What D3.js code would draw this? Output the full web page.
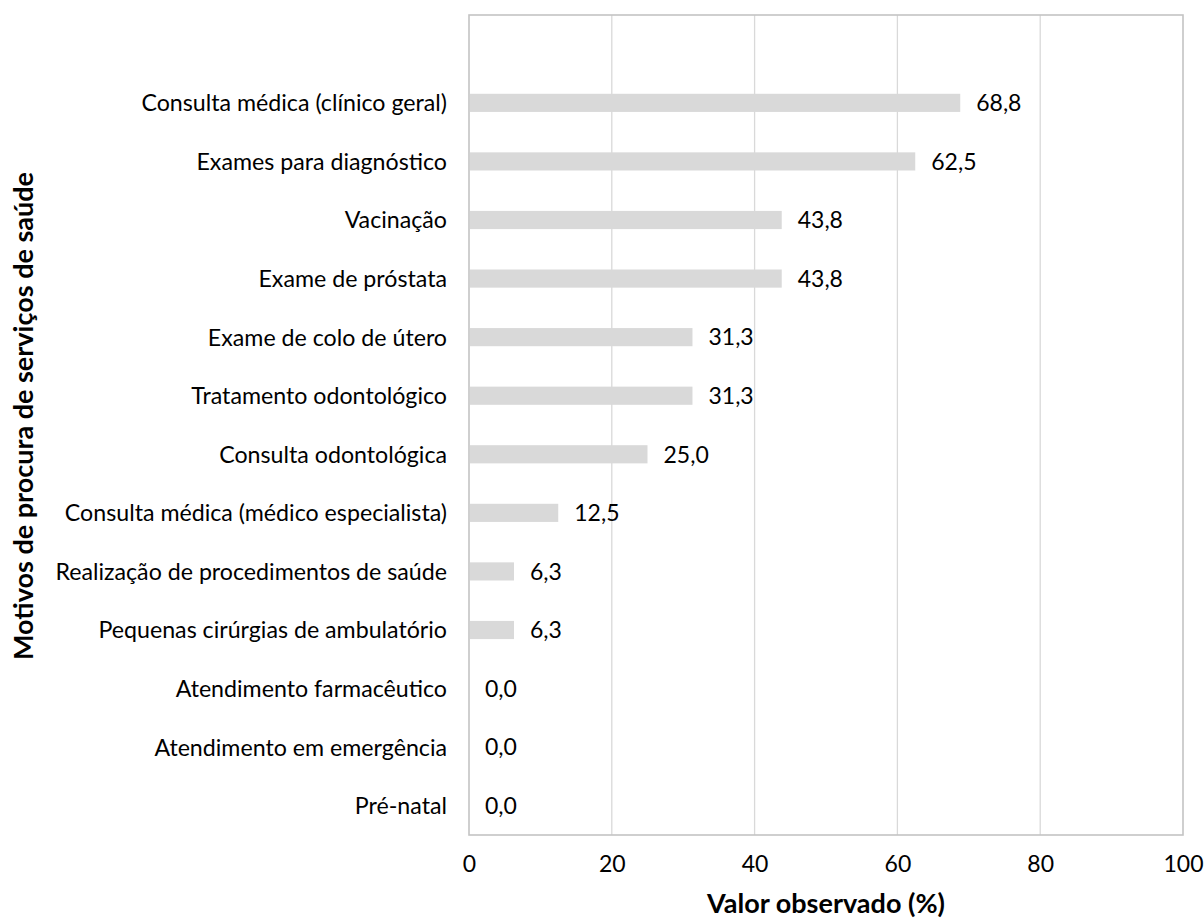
<!DOCTYPE html>
<html><head><meta charset="utf-8">
<script src="https://cdn.jsdelivr.net/npm/d3@7"></script>
<style>body{margin:0;background:#fff;} svg{display:block;font-family:Lato,"Open Sans",sans-serif;}</style>
</head><body>
<svg id="c" width="1204" height="920"></svg>
<script>
const categories = ["Consulta médica (clínico geral)","Exames para diagnóstico","Vacinação","Exame de próstata","Exame de colo de útero","Tratamento odontológico","Consulta odontológica","Consulta médica (médico especialista)","Realização de procedimentos de saúde","Pequenas cirúrgias de ambulatório","Atendimento farmacêutico","Atendimento em emergência","Pré-natal"];
const values = [68.8,62.5,43.8,43.8,31.3,31.3,25.0,12.5,6.3,6.3,0.0,0.0,0.0];
const xTicks = [0,20,40,60,80,100];
const xTitle = "Valor observado (%)";
const yTitle = "Motivos de procura de serviços de saúde";

const svg = d3.select("#c");
const L=469, R=1183, T=15, B=835;
const FS=23;
const step=(B-T)/(categories.length+1);
const x = d3.scaleLinear().domain([0,100]).range([L,R]);
const y = d3.scaleBand().domain(categories).range([T+step,B]).paddingInner(0.69).paddingOuter(0.345);

// gridlines
svg.append("g").selectAll("line").data(xTicks.slice(1,-1)).join("line")
  .attr("x1",d=>x(d)).attr("x2",d=>x(d)).attr("y1",T).attr("y2",B)
  .attr("stroke","#d9d9d9").attr("stroke-width",1.3);
// frame
svg.append("rect").attr("x",L).attr("y",T).attr("width",R-L).attr("height",B-T)
  .attr("fill","none").attr("stroke","#c4c4c4").attr("stroke-width",1.6);

// bars
svg.append("g").selectAll("rect").data(values).join("rect")
  .attr("x",x(0)+1).attr("y",(d,i)=>y(categories[i]))
  .attr("width",d=>Math.max(0,x(d)-x(0)-1)).attr("height",y.bandwidth())
  .attr("fill","#d9d9d9");
// value labels
svg.append("g").selectAll("text").data(values).join("text")
  .attr("x",d=>x(d)+16).attr("y",(d,i)=>y(categories[i])+y.bandwidth()/2)
  .attr("dy","0.36em").attr("font-size",FS).attr("fill","#000")
  .text(d=>d.toFixed(1).replace(".",","));

// category labels
const yAxis = svg.append("g").attr("transform",`translate(${L},0)`)
  .call(d3.axisLeft(y).tickSize(0).tickPadding(22));
yAxis.select(".domain").remove();
yAxis.selectAll("text").attr("font-size",23.2).attr("fill","#000").attr("font-family","Lato").attr("dy","0.36em");

// x tick labels
const xAxis = svg.append("g").attr("transform",`translate(0,${B})`)
  .call(d3.axisBottom(x).tickValues(xTicks).tickSize(0).tickPadding(0));
xAxis.select(".domain").remove();
xAxis.selectAll("text").attr("font-size",FS).attr("fill","#000").attr("font-family","Lato")
  .attr("y",29).attr("dy","0.36em");

// titles
svg.append("text").attr("x",(L+R)/2).attr("y",913).attr("text-anchor","middle")
  .attr("font-size",27).attr("font-weight","bold").attr("fill","#000").text(xTitle);
svg.append("text").attr("transform","translate(33,416) rotate(-90)").attr("text-anchor","middle")
  .attr("font-size",27).attr("font-weight","bold").attr("fill","#000").text(yTitle);
</script>
</body></html>
